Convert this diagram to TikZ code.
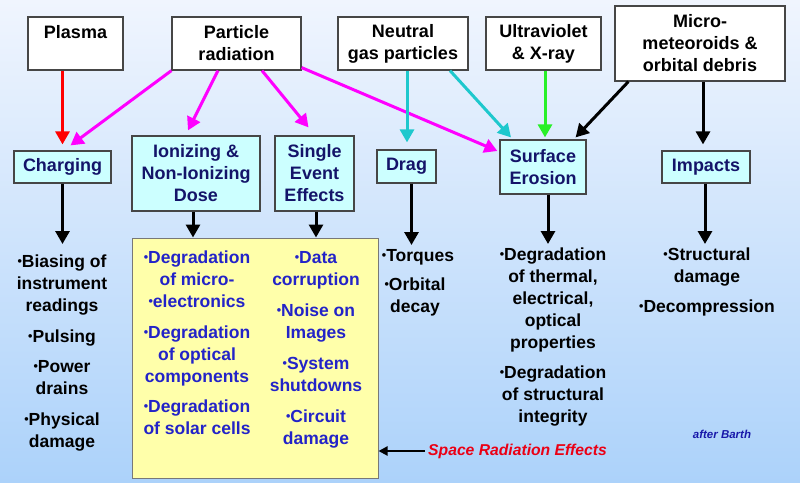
\documentclass[tikz,border=0pt]{standalone}
\usepackage{fontspec}
\setmainfont{Liberation Sans}
\usetikzlibrary{arrows.meta,calc}
\definecolor{bgtop}{RGB}{240,245,254}
\definecolor{bgbot}{RGB}{172,210,250}
\definecolor{boxline}{RGB}{70,70,70}
\definecolor{effill}{RGB}{204,255,255}
\definecolor{navy}{RGB}{20,20,105}
\definecolor{ybfill}{RGB}{255,255,170}
\definecolor{ybtext}{RGB}{35,35,200}
\definecolor{magen}{RGB}{255,0,255}
\definecolor{cyanarr}{RGB}{30,200,205}
\definecolor{greenarr}{RGB}{40,240,40}
\definecolor{redarr}{RGB}{255,0,0}
\definecolor{redtext}{RGB}{235,0,20}
\definecolor{barth}{RGB}{25,25,170}
\newcommand\bu{{\fontsize{12.5}{12}\selectfont\raisebox{2.2pt}{•}}}
\begin{document}
\begin{tikzpicture}[x=1pt,y=-1pt,
  src/.style={draw=boxline, line width=1.2pt, fill=white, inner sep=0pt, align=center,
    font=\bfseries\fontsize{18}{22}\selectfont},
  eff/.style={draw=boxline, line width=1.2pt, fill=effill, inner sep=0pt, align=center,
    text=navy, font=\bfseries\fontsize{18}{22}\selectfont},
  lst/.style={inner sep=0pt, align=center, anchor=north,
    font=\bfseries\fontsize{17.5}{22}\selectfont},
  ylst/.style={lst, text=ybtext},
  arr/.style={line width=3pt, -{Triangle[length=13pt,width=14pt]}},
]
\shade[top color=bgtop,bottom color=bgbot] (0,0) rectangle (800,482);
\useasboundingbox (0,0) rectangle (800,482);

% source boxes
\node[src, minimum width=95pt, minimum height=53pt] (plasma) at (75.5,43.5) {Plasma\\\vphantom{radiation}};
\node[src, minimum width=129pt, minimum height=53pt] (pr) at (236.5,43.5) {Particle\\radiation};
\node[src, minimum width=130pt, minimum height=53pt] (ng) at (403,43.5) {Neutral\\gas particles};
\node[src, minimum width=115pt, minimum height=53pt] (uv) at (543.5,43.5) {Ultraviolet\\\& X-ray};
\node[src, minimum width=170pt, minimum height=75pt] (mm) at (700,43.5) {Micro-\\meteoroids \&\\orbital debris};

% effect boxes
\node[eff, minimum width=97pt, minimum height=32pt] (chg) at (62.5,167) {Charging};
\node[eff, minimum width=128pt, minimum height=75pt] (ion) at (196,173.5) {Ionizing \&\\Non-Ionizing\\Dose};
\node[eff, minimum width=79pt, minimum height=75pt] (see) at (314.5,173.5) {Single\\Event\\Effects};
\node[eff, minimum width=59pt, minimum height=33pt] (drag) at (406.5,166.5) {Drag};
\node[eff, minimum width=86pt, minimum height=54pt] (se) at (543,167) {Surface\\Erosion};
\node[eff, minimum width=88pt, minimum height=32pt] (imp) at (706,167) {Impacts};

% yellow box
\node[draw={rgb,255:red,120;green,120;blue,120}, line width=1pt, fill=ybfill, minimum width=246pt, minimum height=240pt, inner sep=0pt] (yb) at (255,358) {};

% charging list
\node[lst] (c1) at (62,255) {\bu Biasing of\\instrument\\readings};
\node[lst] (c2) at (62,330) {\bu Pulsing};
\node[lst] (c3) at (62,360) {\bu Power\\drains};
\node[lst] (c4) at (62,413) {\bu Physical\\damage};

% yellow box lists
\node[ylst] (y1) at (197,251) {\bu Degradation\\of micro-\\\bu electronics};
\node[ylst] (y2) at (197,326) {\bu Degradation\\of optical\\components};
\node[ylst] (y3) at (197,400) {\bu Degradation\\of solar cells};
\node[ylst] (r1) at (316,251) {\bu Data\\corruption};
\node[ylst] (r2) at (316,304) {\bu Noise on\\Images};
\node[ylst] (r3) at (316,357) {\bu System\\shutdowns};
\node[ylst] (r4) at (316,410) {\bu Circuit\\damage};

% drag list
\node[lst] (d1) at (418,249) {\bu Torques};
\node[lst] (d2) at (415,278) {\bu Orbital\\decay};

% surface list
\node[lst] (s1) at (553,248) {\bu Degradation\\of thermal,\\electrical,\\optical\\properties};
\node[lst] (s2) at (553,366) {\bu Degradation\\of structural\\integrity};

% impacts list
\node[lst] (i1) at (707,248) {\bu Structural\\damage};
\node[lst] (i2) at (707,300) {\bu Decompression};

\node[inner sep=0pt, text=barth, font=\bfseries\itshape\fontsize{11.5}{13}\selectfont] (ab) at (722,434) {after Barth};
\node[inner sep=0pt, anchor=west, text=redtext, font=\bfseries\itshape\fontsize{15.7}{18}\selectfont] (sre) at (428,451) {Space Radiation Effects};

% arrows from sources
\draw[arr, redarr] (chg.north |- plasma.south) -- ([yshift=6]chg.north);
\draw[arr, magen] (pr.south west) -- ([xshift=8,yshift=5]chg.north);
\draw[arr, magen] ([xshift=-18.5]pr.south) -- ([xshift=-8,yshift=5]ion.north);
\draw[arr, magen] ([xshift=25.5]pr.south) -- ([xshift=-6,yshift=8]see.north);
\draw[arr, magen] ([yshift=3]pr.south east) -- ([xshift=-2,yshift=16]se.west);
\draw[arr, cyanarr] ([xshift=4]ng.south) -- ([xshift=0.5,yshift=7]drag.north);
\draw[arr, cyanarr] ([xshift=47]ng.south) -- ([xshift=-32,yshift=2]se.north);
\draw[arr, greenarr] ([xshift=1.5]uv.south) -- ([xshift=2,yshift=2]se.north);
\draw[arr, black] ([xshift=14]mm.south west) -- ([xshift=-11,yshift=2]se.north east);
\draw[arr, black] ([xshift=3]mm.south) -- ([xshift=-3,yshift=6]imp.north);

% arrows to effects lists
\draw[arr, black] (chg.south) -- ([yshift=11]chg.south |- c1.north);
\draw[arr, black] ([xshift=-3]ion.south) -- ([xshift=-3]ion.south |- yb.north);
\draw[arr, black] ([xshift=1.5]see.south) -- ([xshift=1.5]see.south |- yb.north);
\draw[arr, black] ([xshift=5]drag.south) -- ([xshift=5,yshift=4]drag.south |- d1.north);
\draw[arr, black] ([xshift=5]se.south) -- ([xshift=5,yshift=4]se.south |- s1.north);
\draw[arr, black] ([xshift=-1]imp.south) -- ([xshift=-1,yshift=4]imp.south |- i1.north);
\draw[line width=2pt, -{Triangle[length=9pt,width=9pt]}] ([xshift=-3]sre.west) -- (yb.east |- sre.west);
\end{tikzpicture}
\end{document}
